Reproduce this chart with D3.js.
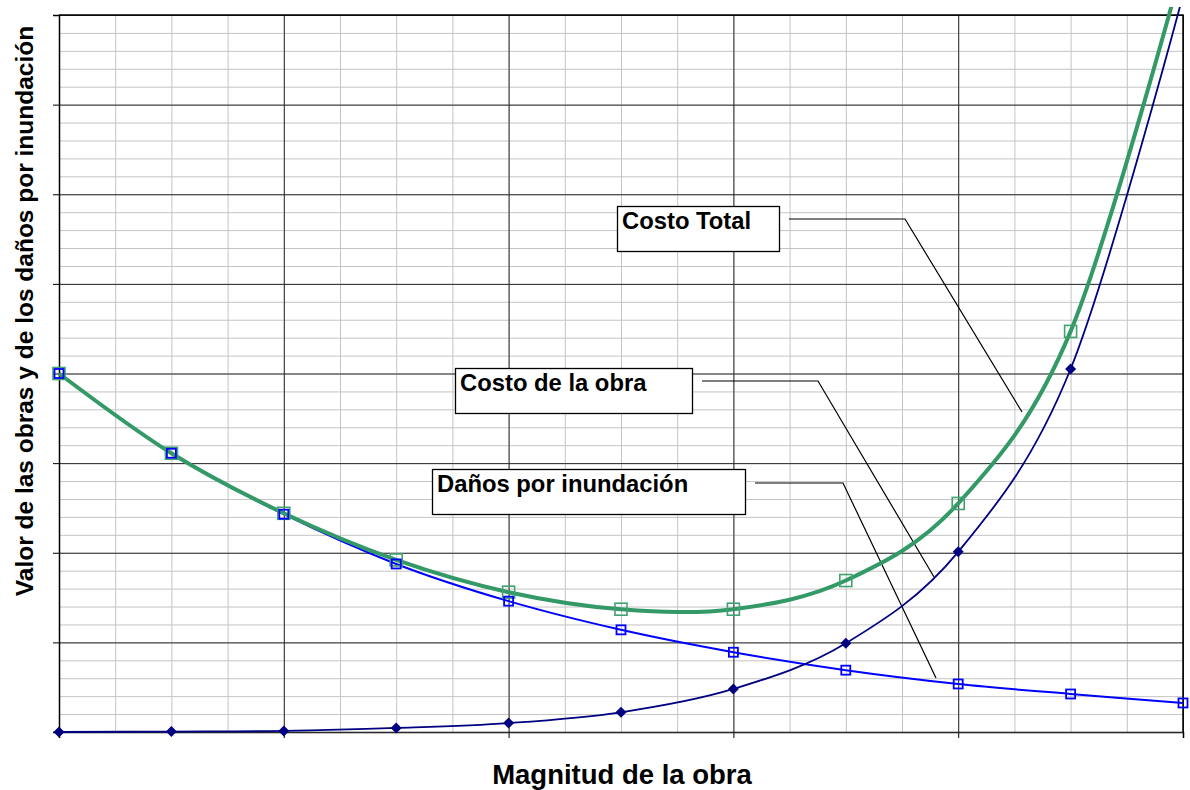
<!DOCTYPE html>
<html>
<head>
<meta charset="utf-8">
<script src="https://cdn.jsdelivr.net/npm/d3@7"></script>
<style>
  html, body { margin: 0; padding: 0; background: #fff; }
  svg { display: block; font-family: Arial, "Liberation Sans", sans-serif; }
</style>
</head>
<body>
<svg id="chart" width="1190" height="790"></svg>
<script>
// Magnitude of the works (x) and the three cost curves
const magnitud   = [0, 1, 2, 3, 4, 5, 6, 7, 8, 9, 10];
const danos      = [4.00, 3.11, 2.43, 1.875, 1.46, 1.14, 0.89, 0.69, 0.536, 0.424, 0.324];
const costoObra  = [0.00, 0.005, 0.012, 0.045, 0.10, 0.22, 0.48, 0.99, 2.01, 4.05, 8.22];
const costoTotal = [4.00, 3.11, 2.44, 1.92, 1.56, 1.37, 1.37, 1.69, 2.55, 4.47, 8.57];

// Axis ticks (no tick labels are shown)
const xMajorTicks = [0, 2, 4, 6, 8, 10];
const xMinorTicks = d3.range(0, 10.01, 0.5);
const yMajorTicks = [0, 1, 2, 3, 4, 5, 6, 7, 8];
const yMinorTicks = d3.range(0, 8.01, 0.2);

const xTitle = "Magnitud de la obra";
const yTitle = "Valor de las obras y de los daños por inundación";

// Callout labels: box geometry (px) and leader polyline (px)
const callouts = [
  { text: "Costo Total",          box: [617, 206, 162, 45], leader: [[789, 219], [905, 219], [1022, 412]] },
  { text: "Costo de la obra",     box: [455, 368, 237, 45], leader: [[702, 381], [818, 381], [934, 577]] },
  { text: "Daños por inundación", box: [432, 469, 313, 45], leader: [[755, 483], [843, 483], [936, 678]] }
];

const svg = d3.select("#chart");
const plot = { left: 59, right: 1183, top: 15, bottom: 732 };

const x = d3.scaleLinear().domain([0, 10]).range([plot.left, plot.right]);
const y = d3.scaleLinear().domain([0, 8]).range([plot.bottom, plot.top]);

// Minor gridlines
svg.append("g")
  .attr("transform", `translate(0,${plot.bottom})`)
  .call(d3.axisBottom(x).tickValues(xMinorTicks).tickSize(-(plot.bottom - plot.top)).tickFormat(""))
  .call(g => g.select(".domain").remove())
  .call(g => g.selectAll("line").attr("stroke", "#c4c4c4").attr("stroke-width", 1));
svg.append("g")
  .attr("transform", `translate(${plot.left},0)`)
  .call(d3.axisLeft(y).tickValues(yMinorTicks).tickSize(-(plot.right - plot.left)).tickFormat(""))
  .call(g => g.select(".domain").remove())
  .call(g => g.selectAll("line").attr("stroke", "#c4c4c4").attr("stroke-width", 1));

// Major gridlines with outward tick marks
svg.append("g")
  .attr("transform", `translate(0,${plot.bottom})`)
  .call(d3.axisBottom(x).tickValues(xMajorTicks).tickSizeInner(-(plot.bottom - plot.top)).tickSizeOuter(0).tickFormat(""))
  .call(g => g.select(".domain").remove())
  .call(g => g.selectAll("line").attr("stroke", "#2a2a2a").attr("stroke-width", 1));
svg.append("g")
  .attr("transform", `translate(0,${plot.bottom})`)
  .call(d3.axisBottom(x).tickValues(xMajorTicks).tickSize(6).tickFormat(""))
  .call(g => g.select(".domain").attr("stroke", "#000").attr("stroke-width", 1.5))
  .call(g => g.selectAll("line").attr("stroke", "#000"));
svg.append("g")
  .attr("transform", `translate(${plot.left},0)`)
  .call(d3.axisLeft(y).tickValues(yMajorTicks).tickSizeInner(-(plot.right - plot.left)).tickSizeOuter(0).tickFormat(""))
  .call(g => g.select(".domain").remove())
  .call(g => g.selectAll("line").attr("stroke", "#2a2a2a").attr("stroke-width", 1));
svg.append("g")
  .attr("transform", `translate(${plot.left},0)`)
  .call(d3.axisLeft(y).tickValues(yMajorTicks).tickSize(6).tickFormat(""))
  .call(g => g.select(".domain").attr("stroke", "#000").attr("stroke-width", 1.5))
  .call(g => g.selectAll("line").attr("stroke", "#000"));

// Plot frame (top and right)
svg.append("path")
  .attr("d", `M${plot.left},${plot.top}H${plot.right}V${plot.bottom}`)
  .attr("fill", "none").attr("stroke", "#000").attr("stroke-width", 1.5);

// Callout boxes and leaders
const cg = svg.append("g");
callouts.forEach(c => {
  const [bx, by, bw, bh] = c.box;
  cg.append("rect").attr("x", bx + 0.5).attr("y", by + 0.5).attr("width", bw).attr("height", bh)
    .attr("fill", "#fff").attr("stroke", "#000").attr("stroke-width", 1.3);
  cg.append("text").attr("x", bx + 5).attr("y", by + 23)
    .attr("font-size", 23.8).attr("font-weight", "bold").attr("fill", "#000").text(c.text);
  cg.append("path").attr("d", d3.line()(c.leader))
    .attr("fill", "none").attr("stroke", "#000").attr("stroke-width", 1.2);
});

// Series
svg.append("clipPath").attr("id", "clip")
  .append("rect").attr("x", plot.left - 10).attr("y", 7).attr("width", plot.right - plot.left + 20).attr("height", plot.bottom - 7 + 10);

const series = svg.append("g").attr("clip-path", "url(#clip)");
const curve = d3.curveCardinal.tension(0);
const lineOf = vals => d3.line().curve(curve).x((d, i) => x(magnitud[i])).y(d => y(d))(vals);

series.append("path").attr("d", lineOf(danos))
  .attr("fill", "none").attr("stroke", "#0000ff").attr("stroke-width", 2);
series.append("path").attr("d", lineOf(costoObra))
  .attr("fill", "none").attr("stroke", "#000080").attr("stroke-width", 1.8);
series.append("path").attr("d", lineOf(costoTotal))
  .attr("fill", "none").attr("stroke", "#339966").attr("stroke-width", 4);

// Markers
const pts = vals => vals.map((v, i) => ({ x: magnitud[i], v })).filter(p => y(p.v) >= plot.top - 1);

series.append("g").selectAll("rect").data(pts(costoTotal)).join("rect")
  .attr("x", d => x(d.x) - 6).attr("y", d => y(d.v) - 6).attr("width", 12).attr("height", 12)
  .attr("fill", "none").attr("stroke", "#3fa371").attr("stroke-width", 1.6);

series.append("g").selectAll("rect").data(pts(danos)).join("rect")
  .attr("x", d => x(d.x) - 4.5).attr("y", d => y(d.v) - 4.5).attr("width", 9).attr("height", 9)
  .attr("fill", "none").attr("stroke", "#0000ff").attr("stroke-width", 1.8);

series.append("g").selectAll("path").data(pts(costoObra)).join("path")
  .attr("d", d => { const cx = x(d.x), cy = y(d.v), r = 5.5; return `M${cx},${cy - r}L${cx + r},${cy}L${cx},${cy + r}L${cx - r},${cy}Z`; })
  .attr("fill", "#000080");

// Axis titles
svg.append("text")
  .attr("x", (plot.left + plot.right) / 2 + 1).attr("y", 784)
  .attr("text-anchor", "middle").attr("font-size", 27.5).attr("font-weight", "bold").text(xTitle);
svg.append("text")
  .attr("transform", "translate(33,311) rotate(-90)")
  .attr("text-anchor", "middle").attr("font-size", 24.5).attr("font-weight", "bold").text(yTitle);
</script>
</body>
</html>
